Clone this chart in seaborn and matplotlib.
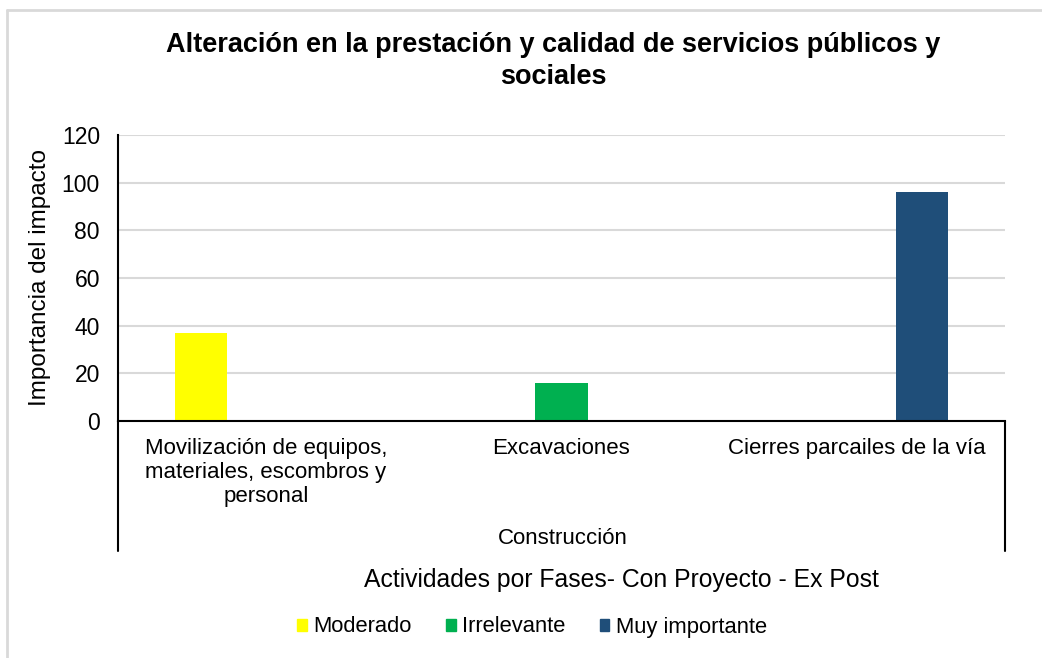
import numpy as np
import pandas as pd
import seaborn as sns
import matplotlib.pyplot as plt
from matplotlib.lines import Line2D

# Activities (construction phase) and impact importance per rating
actividades = [
    "Movilización de equipos,\nmateriales, escombros y\npersonal",
    "Excavaciones",
    "Cierres parcailes de la vía",
]
calificaciones = ["Moderado", "Irrelevante", "Muy importante"]
moderado = [37, 0, 0]
irrelevante = [0, 16, 0]
muy_importante = [0, 0, 96]
colores = ["#FFFF00", "#00B050", "#1F4E79"]
yticks = [0, 20, 40, 60, 80, 100, 120]

df = pd.DataFrame({
    "actividad": actividades * 3,
    "calificacion": np.repeat(calificaciones, len(actividades)),
    "importancia": moderado + irrelevante + muy_importante,
})

sns.set_theme(style="white")
plt.rcParams["font.family"] = ["Liberation Sans", "DejaVu Sans"]
plt.rcParams.update({"text.color": "black", "axes.labelcolor": "black",
                     "xtick.color": "black", "ytick.color": "black"})

W, H = 1042, 658
fig = plt.figure(figsize=(W / 100, H / 100), dpi=100)
ax = fig.add_axes([118 / W, 1 - 421 / H, (1005 - 118) / W, (421 - 135) / H])

sns.barplot(data=df, x="actividad", y="importancia", hue="calificacion",
            order=actividades, hue_order=calificaciones, palette=colores,
            width=0.66, gap=0.2, dodge=True, saturation=1, errorbar=None,
            linewidth=0, ax=ax, legend=False)

ax.set_xlim(-0.5, 2.5)
ax.set_ylim(0, 120)
ax.set_yticks(yticks)
ax.yaxis.grid(True, color="#d9d9d9", linewidth=1.5)
ax.set_axisbelow(True)
for s in ["top", "right"]:
    ax.spines[s].set_visible(False)
for s in ["left", "bottom"]:
    ax.spines[s].set_color("black")
    ax.spines[s].set_linewidth(1.5)

ax.tick_params(axis="y", length=0, pad=13, labelsize=16.5)
ax.tick_params(axis="x", length=0, pad=12, labelsize=16)
ax.set_xticks(range(len(actividades)))
ax.set_xticklabels(actividades, linespacing=1.2, va="top")
ax.set_xlabel("")
ax.set_ylabel("")
fig.text(40 / W, 1 - 278 / H, "Importancia del impacto", rotation=90,
         ha="center", va="center", fontsize=17.5)

# group axis: vertical separators and phase label
for xp in (118, 1005):
    fig.add_artist(Line2D([xp / W, xp / W], [1 - 421 / H, 1 - 551 / H],
                          color="black", linewidth=1.5))
fig.text(563 / W, 1 - 538 / H, "Construcción", ha="center", va="center",
         fontsize=16)

fig.text(621 / W, 1 - 580 / H, "Actividades por Fases- Con Proyecto - Ex Post",
         ha="center", va="center", fontsize=17.8)

fig.suptitle("Alteración en la prestación y calidad de servicios públicos y\nsociales",
             x=553 / W, y=1 - 61 / H, ha="center", va="center",
             fontsize=19.5, fontweight="bold", linespacing=1.25)

handles = [plt.Rectangle((0, 0), 1, 1, color=c) for c in colores]
fig.legend(handles, calificaciones, loc="center", ncol=3,
           bbox_to_anchor=(532 / W, 1 - 627 / H), frameon=False,
           fontsize=15.8, handlelength=0.45, handleheight=0.45,
           handletextpad=0.3, columnspacing=1.55)

# chart frame
fig.add_artist(Line2D([7 / W, 7 / W], [0, 1 - 10 / H], color="#d9d9d9", linewidth=2))
fig.add_artist(Line2D([7 / W, 1], [1 - 10 / H, 1 - 10 / H], color="#d9d9d9", linewidth=2))

fig.savefig("out.png", dpi=100)
